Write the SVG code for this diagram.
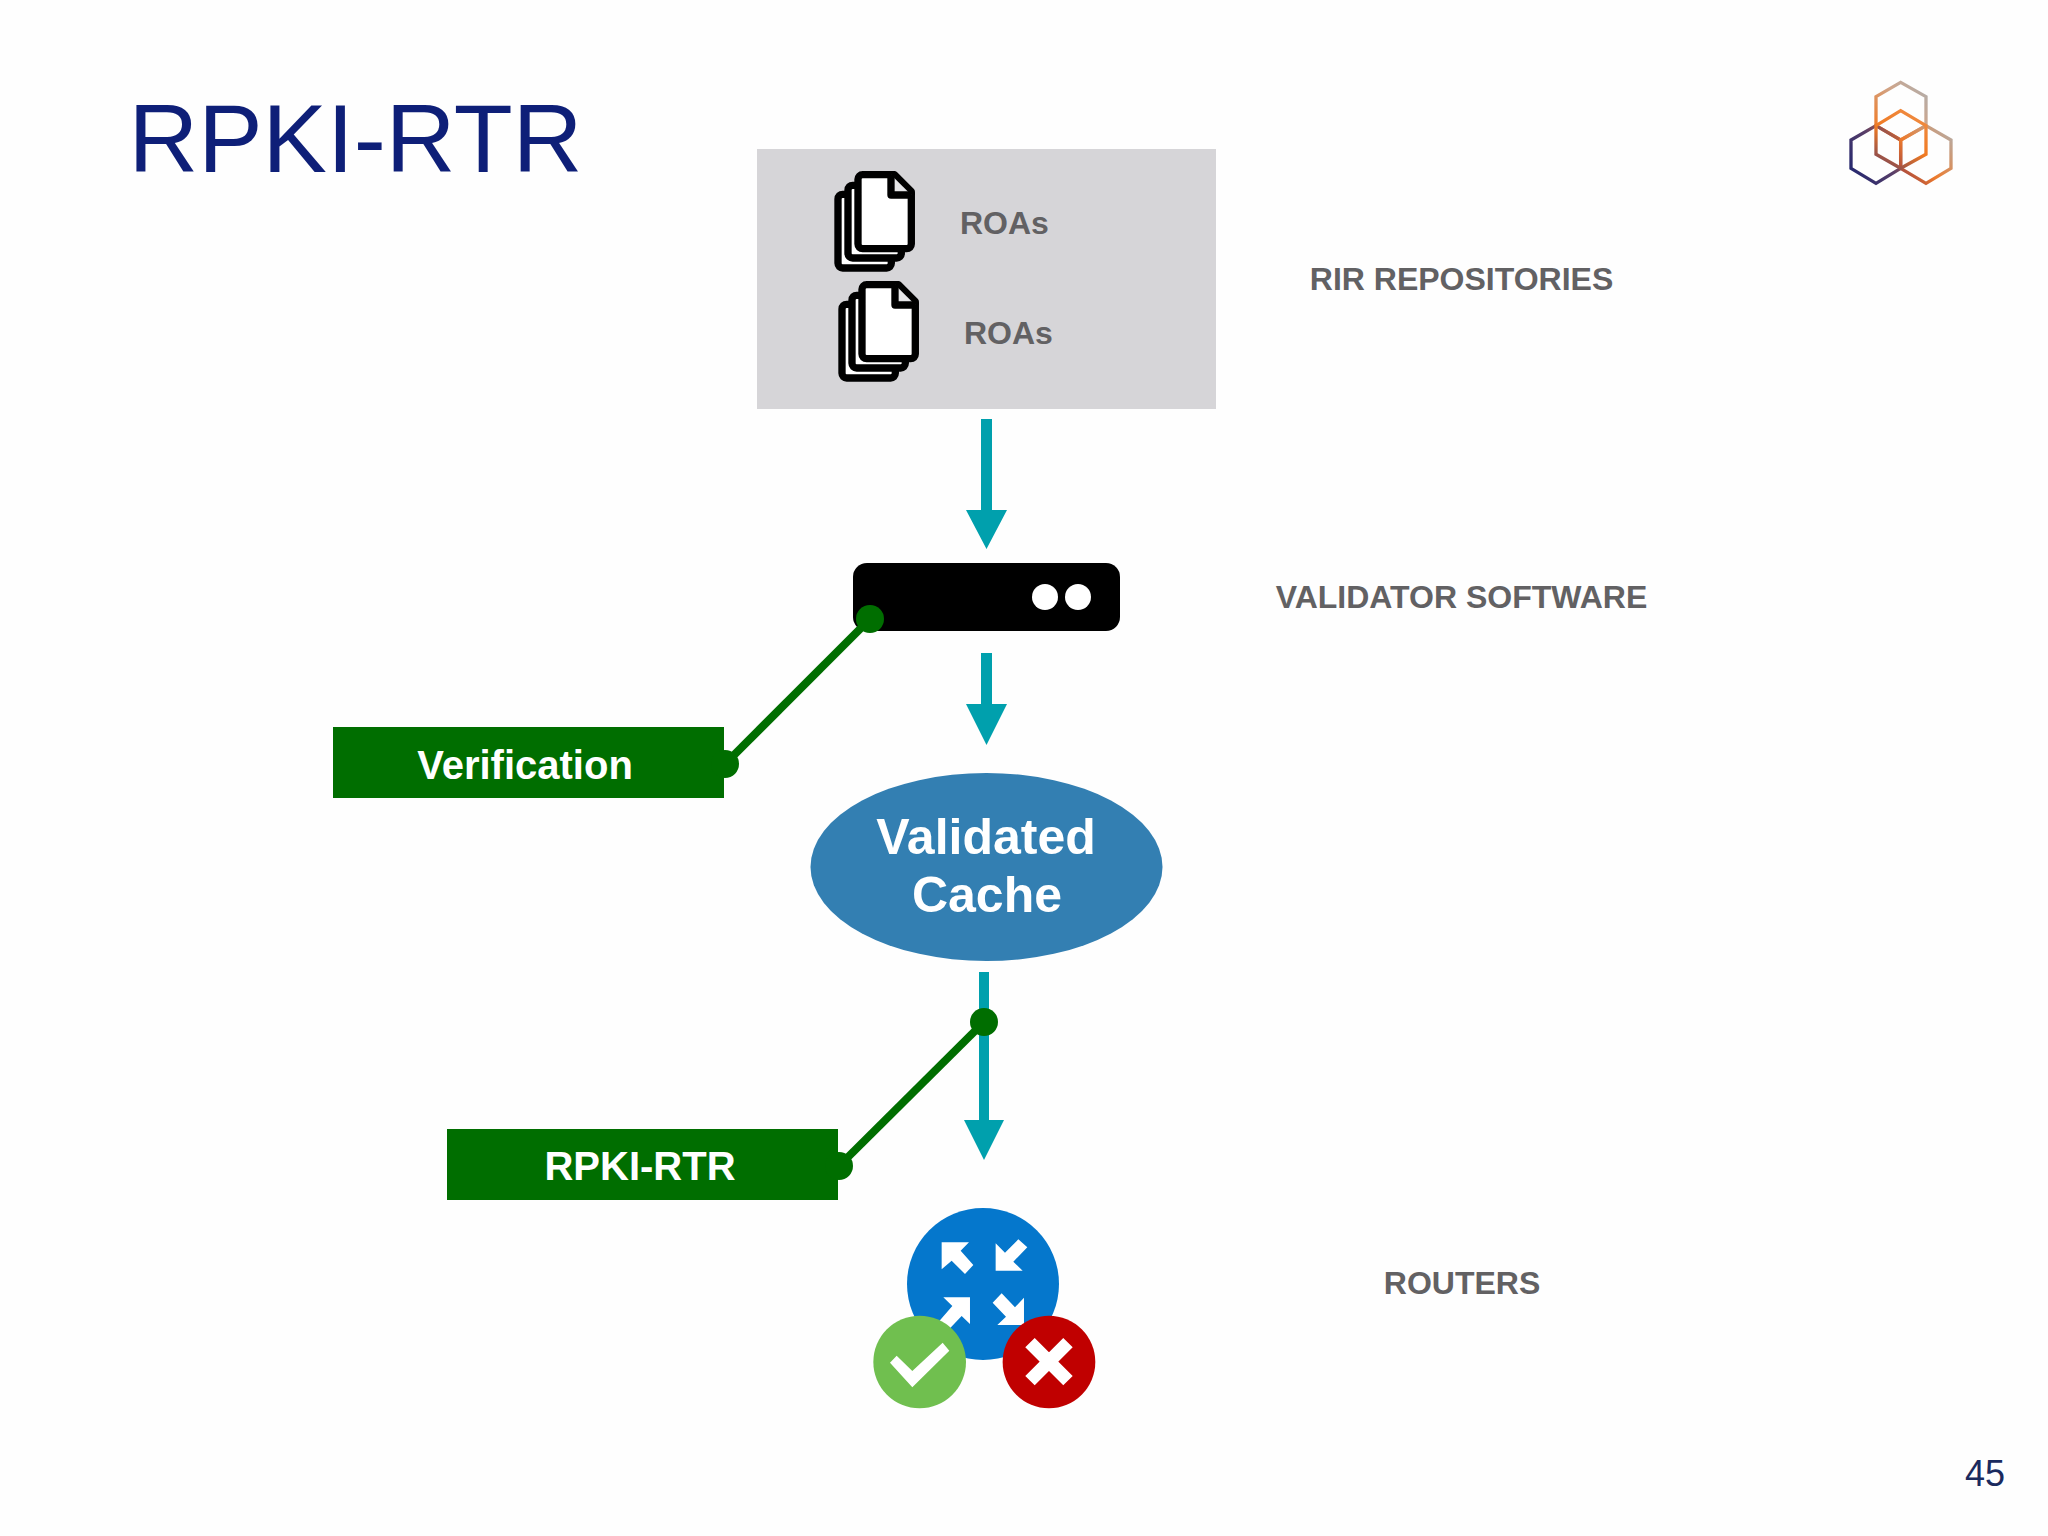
<svg xmlns="http://www.w3.org/2000/svg" xmlns:xlink="http://www.w3.org/1999/xlink" width="2048" height="1536" viewBox="0 0 2048 1536">
<style>
text{font-family:"Liberation Sans",Arial,sans-serif}
.lbl{font-size:32px;font-weight:700;fill:#626163;text-anchor:middle}
.roa{font-size:32px;font-weight:700;fill:#626163}
.tag{fill:#006e00}
.tagt{font-weight:700;fill:#fff;text-anchor:middle;font-size:40px}
.teal{fill:#00a0ad}
.gl{stroke:#006e00;stroke-width:8;fill:none}
.gd{fill:#006e00}
.w{fill:#fff}
.sheet{fill:#fff;stroke:#000;stroke-width:22;stroke-linejoin:round}
</style>
<defs>
<g id="doc">
<rect class="sheet" x="294" y="163" width="160" height="221" rx="14"/>
<rect class="sheet" x="324" y="136" width="160" height="218" rx="14"/>
<path class="sheet" d="M368 104H463L514 155V312a14 14 0 0 1-14 14H368a14 14 0 0 1-14-14V118a14 14 0 0 1 14-14Z"/>
<path d="M453 104V165H514" fill="#e6e6e8" stroke="#000" stroke-width="22" stroke-linejoin="round"/>
</g>
<linearGradient id="gTop" gradientUnits="userSpaceOnUse" x1="168" y1="200" x2="318" y2="70"><stop offset="0" stop-color="#ef7d2a"/><stop offset="0.55" stop-color="#cfa58a"/><stop offset="1" stop-color="#aeaeae"/></linearGradient>
<linearGradient id="gLeft" gradientUnits="userSpaceOnUse" x1="93" y1="340" x2="242" y2="240"><stop offset="0" stop-color="#23276f"/><stop offset="0.6" stop-color="#5a3f68"/><stop offset="1" stop-color="#c0603a"/></linearGradient>
<linearGradient id="gRight" gradientUnits="userSpaceOnUse" x1="242" y1="340" x2="393" y2="210"><stop offset="0" stop-color="#a8493f"/><stop offset="0.35" stop-color="#ee7b2c"/><stop offset="1" stop-color="#b4aeaa"/></linearGradient>
<linearGradient id="gMid" gradientUnits="userSpaceOnUse" x1="190" y1="325" x2="290" y2="160"><stop offset="0" stop-color="#7d4556"/><stop offset="0.5" stop-color="#f07a22"/><stop offset="1" stop-color="#ef8a40"/></linearGradient>
</defs>
<rect width="2048" height="1536" fill="#fefefe"/>
<text id="title" x="128.500" y="172" font-size="96.500" fill="#0e1f78">RPKI-RTR</text>
<g id="logo" transform="translate(1820 60) scale(.3333)" fill="none" stroke-width="10" stroke-linejoin="miter">
<path stroke="url(#gTop)" d="M242 67L318 110V197L242 240L168 197V110Z"/>
<path stroke="url(#gLeft)" d="M168 197L242 240V325L168 370L93 325V240Z"/>
<path stroke="url(#gRight)" d="M318 197L393 240V325L318 370L242 325V240Z"/>
<path stroke="url(#gMid)" d="M242 152L318 197V283L242 325L168 283V197Z"/>
</g>
<g id="repositories">
<rect x="757" y="149" width="459" height="260" fill="#d6d5d8"/>
<use xlink:href="#doc" href="#doc" transform="translate(740 140) scale(.3333)"/>
<use xlink:href="#doc" href="#doc" transform="translate(744 250) scale(.3333)"/>
<text class="roa" x="960" y="234">ROAs</text>
<text class="roa" x="964" y="344">ROAs</text>
</g>
<text id="label-rir" class="lbl" x="1461.500" y="290">RIR REPOSITORIES</text>
<g id="validator">
<rect x="853" y="563" width="267" height="68" rx="14" fill="#000"/>
<circle class="w" cx="1045" cy="597" r="13"/>
<circle class="w" cx="1078" cy="597" r="13"/>
</g>
<text id="label-validator" class="lbl" x="1461.500" y="608">VALIDATOR SOFTWARE</text>
<g id="cache">
<ellipse cx="986.500" cy="867" rx="176" ry="94" fill="#337fb2"/>
<text x="986" y="854" font-size="50" font-weight="700" fill="#fff" text-anchor="middle">Validated</text>
<text x="987" y="912" font-size="50" font-weight="700" fill="#fff" text-anchor="middle">Cache</text>
</g>
<g id="verification">
<rect class="tag" x="333" y="727" width="391" height="71"/>
<text class="tagt" x="525" y="779">Verification</text>
</g>
<g id="rpki-rtr">
<rect class="tag" x="447" y="1129" width="391" height="71"/>
<text class="tagt" x="640" y="1180">RPKI-RTR</text>
</g>
<g id="routers">
<circle cx="983" cy="1284" r="76" fill="#0577cc"/>
<g transform="translate(850 1190) scale(.3333)">
<path class="w" d="M275 157H357L332 182L370 225L345 252L305 212L275 238Z"/>
<path class="w" d="M437 160V242H518L490 215L532 172L505 148L465 188Z"/>
<path class="w" d="M280 322H360V402L335 378L295 420L268 393L307 348Z"/>
<path class="w" d="M522 323V405H442L468 380L428 338L455 310L495 352Z"/>
<circle cx="209" cy="516" r="139" fill="#70bf4f"/>
<circle cx="597" cy="516" r="139" fill="#c00000"/>
<path class="w" d="M120 518L140 497L187 543L278 458L298 482L187 592Z"/>
<path d="M540 458L654 572M654 458L540 572" stroke="#fff" stroke-width="40"/>
</g>
</g>
<text id="label-routers" class="lbl" x="1462" y="1294">ROUTERS</text>
<text id="page" x="1965" y="1486" font-size="36" fill="#1a2a5e">45</text>
<g id="connectors">
<path class="teal" d="M981 419H992V510H1007L986.500 549L966 510H981Z"/>
<path class="teal" d="M981 653H992V704H1007L986.500 745L966 704H981Z"/>
<path class="teal" d="M979 972H989V1120H1004L984 1160L964 1120H979Z"/>
<path class="gl" d="M870 619L725 764"/>
<circle class="gd" cx="870" cy="619" r="14"/>
<circle class="gd" cx="725" cy="764" r="14"/>
<path class="gl" d="M984 1022L839 1166"/>
<circle class="gd" cx="984" cy="1022" r="14"/>
<circle class="gd" cx="839" cy="1166" r="14"/>
</g>
</svg>
